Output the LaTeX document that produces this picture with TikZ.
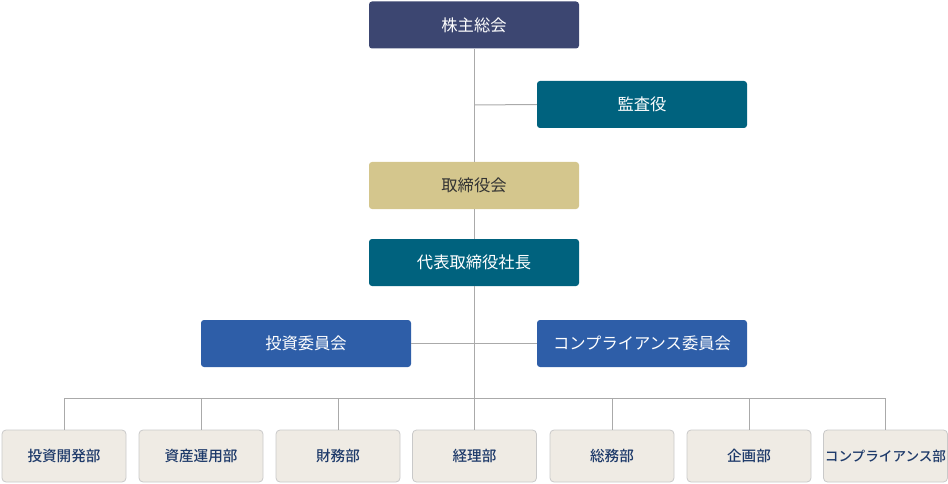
\documentclass[tikz,border=0pt]{standalone}
\usepackage{fontspec}
\newfontfamily\jp{Noto Sans CJK JP}
\newfontfamily\jpb{Noto Sans CJK JP Medium}
\definecolor{navy}{HTML}{3C4671}
\definecolor{teal}{HTML}{00627E}
\definecolor{gold}{HTML}{D4C68D}
\definecolor{royal}{HTML}{2E5EA8}
\definecolor{beige}{HTML}{EFEBE4}
\definecolor{bord}{HTML}{C9C9C9}
\definecolor{lin}{HTML}{AAAAAA}
\definecolor{dtext}{HTML}{1E3A6A}
\begin{document}
\begin{tikzpicture}[x=1pt,y=-1pt,
  top/.style={minimum width=210pt,minimum height=47pt,rounded corners=3pt,inner sep=0pt,text=white,font=\jp\fontsize{16.3}{16}\selectfont},
  dept/.style={minimum width=124pt,minimum height=52pt,rounded corners=4pt,inner sep=0pt,fill=beige,draw=bord,line width=0.8pt,text=dtext,font=\jpb\fontsize{14.6}{14}\selectfont},
  conn/.style={draw=lin,line width=1pt}]
\useasboundingbox (0,0) rectangle (948,484);
\node[top,fill=navy] (gm) at (474,25) {株主総会};
\node[top,fill=teal] (aud) at (642,104.5) {監査役};
\node[top,fill=gold,text=black!80] (bod) at (474,185.5) {取締役会};
\node[top,fill=teal] (ceo) at (474,262.5) {代表取締役社長};
\node[top,fill=royal] (inv) at (306,343.5) {投資委員会};
\node[top,fill=royal] (comp) at (642,343.5) {コンプライアンス委員会};
\node[dept] (d1) at (64,456) {投資開発部};
\node[dept] (d2) at (201,456) {資産運用部};
\node[dept] (d3) at (338,456) {財務部};
\node[dept] (d4) at (474.5,456) {経理部};
\node[dept] (d5) at (612,456) {総務部};
\node[dept] (d6) at (749,456) {企画部};
\node[dept,font=\jpb\fontsize{13.6}{13}\selectfont] (d7) at (885.5,456) {コンプライアンス部};
\coordinate (busL) at (64,398);
\coordinate (busR) at (885.5,398);
\coordinate (jA) at (474,105);
\coordinate (jC) at (474,398);
\draw[conn] (gm.south) -- (bod.north);
\draw[conn] (jA) -- (aud.west);
\draw[conn] (bod.south) -- (ceo.north);
\draw[conn] (ceo.south) -- (jC);
\draw[conn] (inv.east) -- (comp.west);
\draw[conn] (busL) -- (busR);
\foreach \d in {d1,d2,d3,d5,d6,d7} \draw[conn] (\d.north) -- (\d.north |- busL);
\draw[conn] (jC) -- (jC |- d4.north);
\end{tikzpicture}
\end{document}
